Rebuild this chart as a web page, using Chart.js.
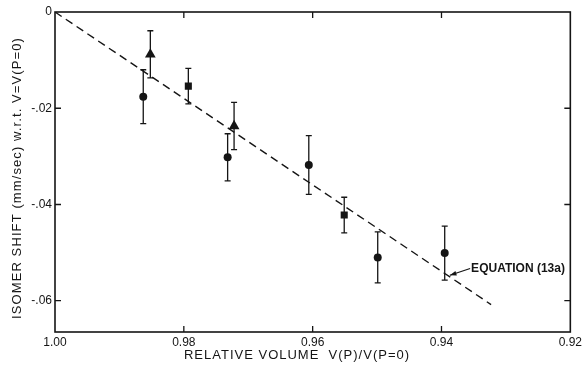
<!DOCTYPE html>
<html>
<head>
<meta charset="utf-8">
<script src="https://cdn.jsdelivr.net/npm/chart.js@4.4.0/dist/chart.umd.min.js"></script>
<style>
  html, body { margin: 0; padding: 0; background: #fff; }
  #wrap { width: 585px; height: 370px; }
</style>
</head>
<body>
<div id="wrap"><canvas id="c" width="585" height="370"></canvas></div>
<script>
// ---- data ----
const circleX   = [0.9863, 0.9732, 0.9606, 0.9499, 0.9395];
const circleY   = [-0.0176, -0.0302, -0.0318, -0.0510, -0.0501];
const circleErr = [0.0056, 0.0049, 0.0061, 0.0053, 0.0056];

const triangleX   = [0.9852, 0.9722];
const triangleY   = [-0.0088, -0.0237];
const triangleErr = [0.0049, 0.0049];

const squareX   = [0.9793, 0.9551];
const squareY   = [-0.0154, -0.0422];
const squareErr = [0.0037, 0.0037];

const fitX = [1.00, 0.9323];
const fitY = [0, -0.0608];

const xTickValues = [1.00, 0.98, 0.96, 0.94, 0.92];
const xTickLabels = ['1.00', '0.98', '0.96', '0.94', '0.92'];
const yTickValues = [0, -0.02, -0.04, -0.06];
const yTickLabels = ['0', '-.02', '-.04', '-.06'];

const annotationText = 'EQUATION (13a)';
const annotationTip  = [0.9387, -0.0547];
const annotationText0 = [0.9354, -0.0533];

const xTitle = 'RELATIVE VOLUME  V(P)/V(P=0)';
const yTitle = 'ISOMER SHIFT (mm/sec) w.r.t. V=V(P=0)';

const INK = '#151515';
const FONT = '"Liberation Sans", Arial, sans-serif';

function pts(xs, ys) { return xs.map((x, i) => ({ x: x, y: ys[i] })); }

const errorSets = [
  { xs: circleX, ys: circleY, es: circleErr },
  { xs: triangleX, ys: triangleY, es: triangleErr },
  { xs: squareX, ys: squareY, es: squareErr }
];

const decor = {
  id: 'decor',
  beforeDatasetsDraw(chart) {
    const ctx = chart.ctx, xs = chart.scales.x, ys = chart.scales.y;
    ctx.save();
    ctx.strokeStyle = INK;
    ctx.lineWidth = 1.3;
    errorSets.forEach(s => {
      s.xs.forEach((xv, i) => {
        const px = xs.getPixelForValue(xv);
        const top = ys.getPixelForValue(s.ys[i] + s.es[i]);
        const bot = ys.getPixelForValue(s.ys[i] - s.es[i]);
        ctx.beginPath();
        ctx.moveTo(px, top); ctx.lineTo(px, bot);
        ctx.moveTo(px - 3, top); ctx.lineTo(px + 3, top);
        ctx.moveTo(px - 3, bot); ctx.lineTo(px + 3, bot);
        ctx.stroke();
      });
    });
    ctx.restore();
  },
  afterDraw(chart) {
    const ctx = chart.ctx, a = chart.chartArea, xs = chart.scales.x, ys = chart.scales.y;
    ctx.save();
    // frame
    ctx.strokeStyle = INK;
    ctx.lineWidth = 1.6;
    ctx.strokeRect(a.left, a.top, a.right - a.left, a.bottom - a.top);
    // inner ticks
    ctx.lineWidth = 1.3;
    const T = 6;
    ctx.beginPath();
    xTickValues.slice(1, -1).forEach(v => {
      const px = xs.getPixelForValue(v);
      ctx.moveTo(px, a.top); ctx.lineTo(px, a.top + T);
      ctx.moveTo(px, a.bottom); ctx.lineTo(px, a.bottom - T);
    });
    yTickValues.slice(1).forEach(v => {
      const py = ys.getPixelForValue(v);
      ctx.moveTo(a.left, py); ctx.lineTo(a.left + T, py);
      ctx.moveTo(a.right, py); ctx.lineTo(a.right - T, py);
    });
    ctx.stroke();
    // annotation
    const tx = xs.getPixelForValue(annotationText0[0]);
    const ty = ys.getPixelForValue(annotationText0[1]);
    const ax = xs.getPixelForValue(annotationTip[0]);
    const ay = ys.getPixelForValue(annotationTip[1]);
    ctx.beginPath();
    ctx.moveTo(tx - 1, ty); ctx.lineTo(ax, ay);
    ctx.lineWidth = 1.2;
    ctx.stroke();
    const ang = Math.atan2(ay - ty, ax - tx);
    ctx.beginPath();
    ctx.moveTo(ax, ay);
    ctx.lineTo(ax - 7 * Math.cos(ang - 0.35), ay - 7 * Math.sin(ang - 0.35));
    ctx.lineTo(ax - 7 * Math.cos(ang + 0.35), ay - 7 * Math.sin(ang + 0.35));
    ctx.closePath();
    ctx.fillStyle = INK;
    ctx.fill();
    ctx.font = 'bold 12px ' + FONT;
    ctx.textAlign = 'left';
    ctx.textBaseline = 'middle';
    ctx.fillText(annotationText, tx, ty);
    // x title
    ctx.font = '13px ' + FONT;
    ctx.textAlign = 'center';
    ctx.textBaseline = 'middle';
    if ('letterSpacing' in ctx) ctx.letterSpacing = '1px';
    ctx.fillText(xTitle, 297, 355);
    // y title
    ctx.translate(17, (a.top + a.bottom) / 2 + 6);
    ctx.rotate(-Math.PI / 2);
    if ('letterSpacing' in ctx) ctx.letterSpacing = '1.1px';
    ctx.fillText(yTitle, 0, 0);
    ctx.restore();
  }
};

new Chart(document.getElementById('c'), {
  type: 'scatter',
  data: {
    datasets: [
      {
        type: 'line', data: pts(fitX, fitY), borderColor: INK, borderWidth: 1.4,
        borderDash: [8, 5], pointRadius: 0, fill: false
      },
      {
        data: pts(circleX, circleY), pointStyle: 'circle', pointRadius: 4,
        backgroundColor: INK, borderColor: INK, borderWidth: 0
      },
      {
        data: pts(triangleX, triangleY), pointStyle: 'triangle', pointRadius: 6.2,
        backgroundColor: INK, borderColor: INK, borderWidth: 0
      },
      {
        data: pts(squareX, squareY), pointStyle: 'rect', pointRadius: 5,
        backgroundColor: INK, borderColor: INK, borderWidth: 0
      }
    ]
  },
  options: {
    responsive: false,
    animation: false,
    events: [],
    layout: { padding: { top: 12, right: 13, left: 0, bottom: 0 } },
    plugins: { legend: { display: false }, tooltip: { enabled: false } },
    scales: {
      x: {
        type: 'linear', reverse: true, min: 0.92, max: 1.00,
        grid: { display: false, drawTicks: false },
        border: { display: false },
        afterBuildTicks: s => { s.ticks = xTickValues.map(v => ({ value: v })); },
        afterFit: s => { s.height = 38; },
        ticks: {
          callback: (v, i) => xTickLabels[i],
          color: INK, font: { family: FONT, size: 12 }, padding: 3, maxRotation: 0
        }
      },
      y: {
        type: 'linear', min: -0.0665, max: 0,
        grid: { display: false, drawTicks: false },
        border: { display: false },
        afterBuildTicks: s => { s.ticks = yTickValues.map(v => ({ value: v })); },
        afterFit: s => { s.width = 55; },
        ticks: {
          callback: (v, i) => yTickLabels[i],
          color: INK, font: { family: FONT, size: 12 }, padding: 3
        }
      }
    }
  },
  plugins: [decor]
});
</script>
</body>
</html>
